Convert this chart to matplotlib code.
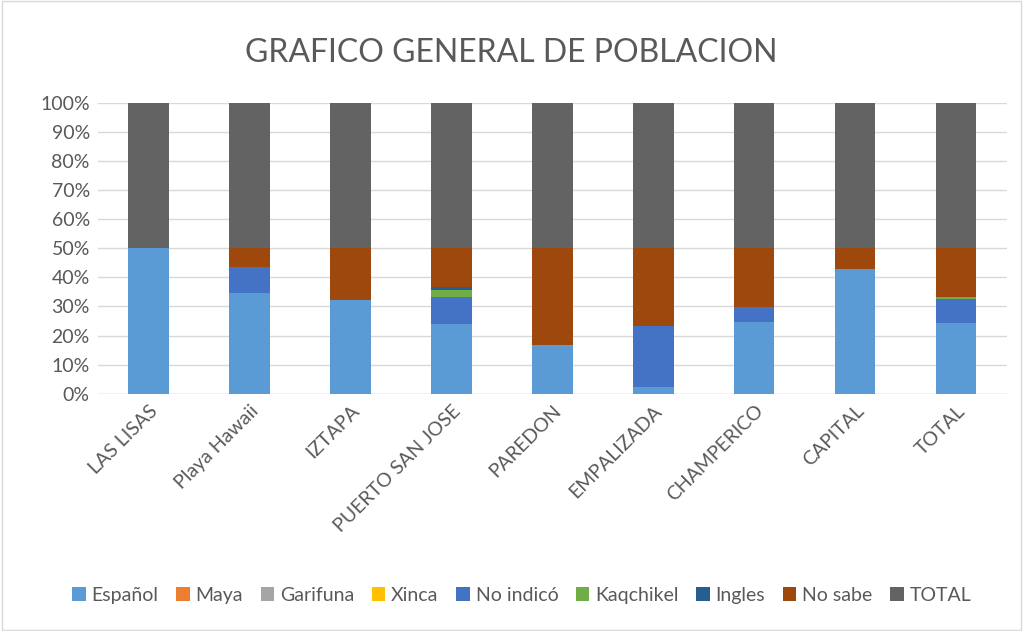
import numpy as np
import matplotlib.pyplot as plt
from matplotlib.patches import Rectangle

plt.rcParams['font.family'] = ['Lato', 'DejaVu Sans']

lugares = ["LAS LISAS", "Playa Hawaii", "IZTAPA", "PUERTO SAN JOSE", "PAREDON",
           "EMPALIZADA", "CHAMPERICO", "CAPITAL", "TOTAL"]

# porcentaje de cada lugar (TOTAL = 100)
espanol   = [100.0, 69.5, 64.5, 48.2, 33.5, 4.6, 49.4, 86.0, 48.6]
maya      = [0, 0, 0, 0, 0, 0, 0, 0, 0]
garifuna  = [0, 0, 0, 0, 0, 0, 0, 0, 0]
xinca     = [0, 0, 0, 0, 0, 0, 0, 0, 0]
no_indico = [0, 17.5, 0, 18.0, 0, 42.2, 10.4, 0, 16.6]
kaqchikel = [0, 0, 0, 5.2, 0, 0, 0, 0, 1.0]
ingles    = [0, 0, 0, 2.0, 0, 0, 0, 0, 0.6]
no_sabe   = [0, 13.0, 35.5, 26.6, 66.5, 53.2, 40.2, 14.0, 33.2]
total     = [100, 100, 100, 100, 100, 100, 100, 100, 100]

series = [
    ("Español", espanol, "#5B9BD5"),
    ("Maya", maya, "#ED7D31"),
    ("Garifuna", garifuna, "#A5A5A5"),
    ("Xinca", xinca, "#FFC000"),
    ("No indicó", no_indico, "#4472C4"),
    ("Kaqchikel", kaqchikel, "#70AD47"),
    ("Ingles", ingles, "#255E91"),
    ("No sabe", no_sabe, "#9E480E"),
    ("TOTAL", total, "#636363"),
]

suma = np.sum([np.array(s[1], dtype=float) for s in series], axis=0)

fig = plt.figure(figsize=(10.23, 6.31), dpi=100)
ax = fig.add_axes([0.096, 0.376, 0.888, 0.461])

x = np.arange(len(lugares))
base = np.zeros(len(lugares))
for nombre, vals, color in series:
    v = np.array(vals, dtype=float) / suma * 100
    ax.bar(x, v, 0.4, bottom=base, color=color, label=nombre, zorder=3)
    base += v

ax.set_ylim(0, 100)
ax.set_xlim(-0.5, len(lugares) - 0.5)
ax.set_yticks(np.arange(0, 101, 10))
ax.set_yticklabels([f"{t}%" for t in range(0, 101, 10)], fontsize=14, color="#595959")
ax.set_xticks(x)
ax.set_xticklabels(lugares, rotation=45, ha="right", rotation_mode="anchor",
                   fontsize=14, color="#595959")
ax.tick_params(length=0, pad=6)
ax.grid(axis="y", color="#D9D9D9", linewidth=1, zorder=0)
for s in ax.spines.values():
    s.set_visible(False)
ax.axhline(0, color="#D9D9D9", linewidth=1, zorder=1)

fig.suptitle("GRAFICO GENERAL DE POBLACION", y=0.94, fontsize=23, color="#595959")

fig.legend(loc="center", bbox_to_anchor=(0.51, 0.057), ncol=9, frameon=False,
           fontsize=14, handlelength=0.7, handleheight=0.7, handletextpad=0.3,
           columnspacing=0.9, labelcolor="#595959")

fig.patches.append(Rectangle((0.002, 0.002), 0.996, 0.996, transform=fig.transFigure,
                             fill=False, edgecolor="#D9D9D9", linewidth=1))

fig.savefig("out.png", dpi=100)
